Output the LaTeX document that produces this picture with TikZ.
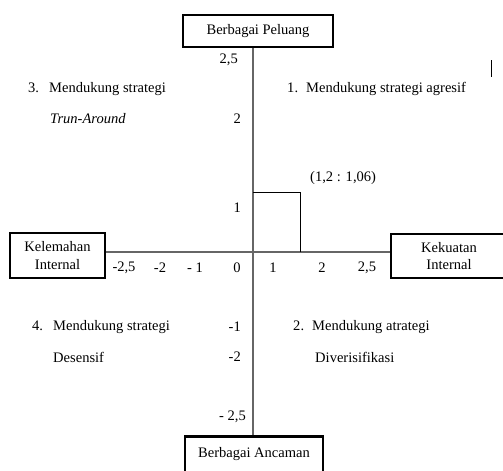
\documentclass[tikz,border=0pt]{standalone}
\usepackage{fontspec}
\setmainfont{Liberation Serif}
\tikzset{
  kotak/.style={draw, line width=2.2pt, align=center, inner sep=0pt},
  sumbu/.style={black!60, line width=0.9pt},
  angka/.style={anchor=east, inner sep=0pt},
  teks/.style={anchor=west, inner sep=0pt}
}
\newcommand{\nomor}[2]{\makebox[#1][l]{#2}}

\begin{document}
\begin{tikzpicture}[x=0.03cm, y=-0.03cm, font=\fontsize{12.4}{15.3}\selectfont]
    \clip (0,0) rectangle (503,470);
    \coordinate (O) at (253,252);
    \node[kotak, minimum width=4.5cm, minimum height=0.96cm] (peluang) at (258,31) {Berbagai Peluang};
    \node[kotak, anchor=north, minimum width=4.14cm, text height=0.33cm, text depth=1cm, inner ysep=0.3cm] (ancaman) at (254,435) {Berbagai Ancaman};
    \node[kotak, minimum width=2.85cm, minimum height=1.35cm] (kelemahan) at (57.5,255.5) {Kelemahan\\Internal};
    \node[kotak, minimum width=3.48cm, minimum height=1.32cm] (kekuatan) at (449,256) {Kekuatan\\Internal};
    \draw[sumbu] (peluang.south -| O) -- (ancaman.north -| O);
    \draw[sumbu] (kelemahan.east |- O) -- (kekuatan.west |- O);
    % titik posisi
    \coordinate (titik) at (300,192);
    \draw[line width=0.8pt] (O |- titik) -- (titik) -- (titik |- O);
    \node[teks] (koordinat) at (310,178) {(1,2 : 1,06)};
    \foreach \x/\t [count=\i] in {124/{-2,5}, 160/-2, 195/{- 1}, 237/0, 273/1, 322/2, 367/{2,5}}
        \node[inner sep=0pt] (h\i) at (\x,268) {\t};
    \foreach \y/\t/\r [count=\i] in {60/{2,5}/238, 119/2/241, 208/1/241, 327/-1/241, 357/-2/241, 417/{- 2,5}/246}
        \node[angka] (v\i) at (\r,\y) {\t};
    \node[teks] (q3) at (28,89) {\nomor{0.63cm}{3.}Mendukung strategi};
    \node[teks] (q3b) at (50,119) {\textit{Trun-Around}};
    \node[teks] (q1) at (287,89) {\nomor{0.57cm}{1.}Mendukung strategi agresif};
    \node[teks] (q4) at (32,327) {\nomor{0.63cm}{4.}Mendukung strategi};
    \node[teks] (q4b) at (53,357) {Desensif};
    \node[teks] (q2) at (293,327) {\nomor{0.57cm}{2.}Mendukung atrategi};
    \node[teks] (q2b) at (315,357) {Diverisifikasi};
    \draw[line width=0.8pt] (491,60) -- (491,77);
\end{tikzpicture}
\end{document}
